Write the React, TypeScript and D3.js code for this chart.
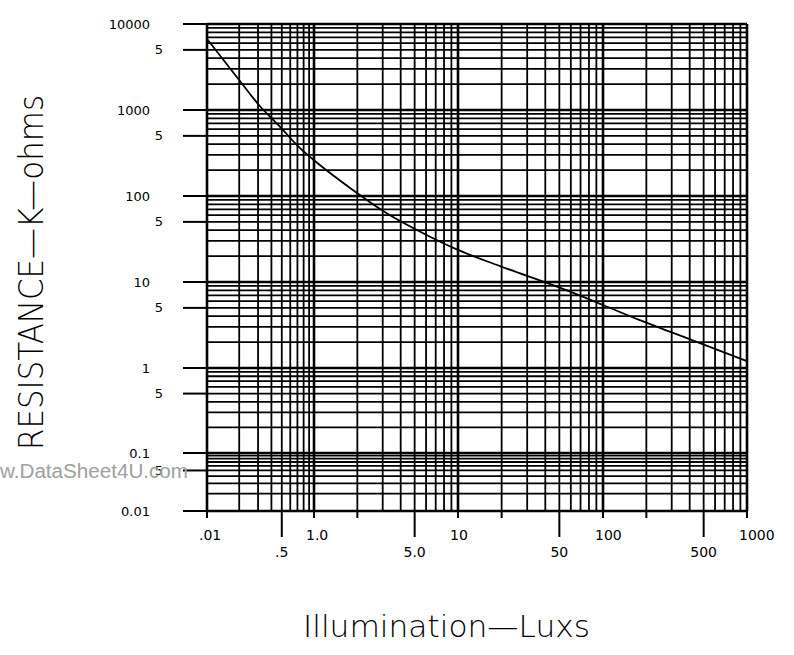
import * as d3 from 'd3';

// Log paper decades as printed on the sheet (the left decade is labelled ".01")
const xDecades = [0.1, 1, 10, 100, 1000];
const xDecadeLabels = ['.01', '1.0', '10', '100', '1000'];
const xFiveTicks = [0.5, 5, 50, 500];
const xFiveLabels = ['.5', '5.0', '50', '500'];
const xShortTicks = [0.1, 1, 2, 10, 20, 100, 200, 1000];

const yDecades = [10000, 1000, 100, 10, 1, 0.1, 0.01];
const yDecadeLabels = ['10000', '1000', '100', '10', '1', '0.1', '0.01'];
const yFiveTicks = [5000, 500, 50, 5, 0.5, 0.05];
const yFiveLabels = ['5', '5', '5', '5', '5', '5'];

// Resistance (K-ohms) vs illumination (lux)
const lux = [0.1, 0.21, 0.31, 0.48, 0.74, 1.03, 1.78, 3.2, 6.1, 10, 19.5, 53, 100, 180, 300, 420, 1000];
const resistance = [6700, 2060, 1120, 640, 360, 250, 124, 63, 35, 23.6, 15.3, 8.3, 5.4, 3.6, 2.6, 2.1, 1.2];

const W = 794;
const H = 655;
const FONT = '"DejaVu Sans", "Liberation Sans", sans-serif';

export default function App() {
  // the printed paper has a short first x decade and a short last y decade
  const x = d3.scaleLog().domain(xDecades).range([207, 314, 458, 603, 747]);
  const y = d3.scaleLog().domain(yDecades).range([24, 110, 196, 282, 368, 453, 511]);

  const [x0, x1] = [x(xDecades[0]), x(xDecades[xDecades.length - 1])];
  const [y0, y1] = [y(yDecades[0]), y(yDecades[yDecades.length - 1])];

  const xMinor: number[] = [];
  xDecades.slice(0, -1).forEach(d => d3.range(2, 10).forEach(k => xMinor.push(k * d)));
  const yMinor: number[] = [];
  yDecades.slice(1).forEach(d => d3.range(2, 10).forEach(k => yMinor.push(k * d)));

  const pts = lux.map((l, i) => [l, resistance[i]] as [number, number]);
  const line = d3.line<[number, number]>()
    .x(d => x(d[0]))
    .y(d => y(d[1]))
    .curve(d3.curveMonotoneX);

  return (
    <svg width={W} height={H} viewBox={`0 0 ${W} ${H}`}
      style={{ position: 'absolute', left: 0, top: 0, background: '#fff' }}>
      <rect width={W} height={H} fill="#fff" />

      {/* grid */}
      <g stroke="#000" fill="none">
        {xMinor.map(v => (
          <line key={'xm' + v} x1={x(v)} x2={x(v)} y1={y0} y2={y1} strokeWidth={1.8} />
        ))}
        {yMinor.map(v => (
          <line key={'ym' + v} x1={x0} x2={x1} y1={y(v)} y2={y(v)} strokeWidth={1.8} />
        ))}
        {xDecades.map(v => (
          <line key={'xd' + v} x1={x(v)} x2={x(v)} y1={y0} y2={y1} strokeWidth={2.6} />
        ))}
        {yDecades.map(v => (
          <line key={'yd' + v} x1={x0} x2={x1} y1={y(v)} y2={y(v)} strokeWidth={2.6} />
        ))}
      </g>

      {/* y ticks + labels */}
      <g stroke="#000" strokeWidth={2}>
        {yDecades.map(v => <line key={'yt' + v} x1={x0 - 24} x2={x0} y1={y(v)} y2={y(v)} />)}
        {yFiveTicks.map(v => <line key={'yf' + v} x1={x0 - 24} x2={x0} y1={y(v)} y2={y(v)} />)}
      </g>
      <g fontFamily={FONT} fontSize={13} fill="#000">
        {yDecades.map((v, i) => (
          <text key={'yl' + v} x={150} y={y(v)} dy="0.35em" textAnchor="end">{yDecadeLabels[i]}</text>
        ))}
        {yFiveTicks.map((v, i) => (
          <text key={'yfl' + v} x={163} y={y(v)} dy="0.35em" textAnchor="end">{yFiveLabels[i]}</text>
        ))}
      </g>

      {/* x ticks + labels */}
      <g stroke="#000" strokeWidth={2}>
        {xShortTicks.map(v => <line key={'xt' + v} x1={x(v)} x2={x(v)} y1={y1} y2={y1 + 7} />)}
        {xFiveTicks.map(v => <line key={'xf' + v} x1={x(v)} x2={x(v)} y1={y1} y2={y1 + 26} />)}
      </g>
      <g fontFamily={FONT} fontSize={14} fill="#000">
        {xDecades.map((v, i) => (
          <text key={'xl' + v} x={x(v) - 8} y={540}>{xDecadeLabels[i]}</text>
        ))}
        {xFiveTicks.map((v, i) => (
          <text key={'xfl' + v} x={x(v)} y={557} textAnchor="middle">{xFiveLabels[i]}</text>
        ))}
      </g>

      {/* curve */}
      <path d={line(pts) ?? ''} fill="none" stroke="#000" strokeWidth={1.8} />

      {/* axis titles */}
      <text transform="translate(43,450) rotate(-90)" fontFamily={FONT} fontWeight={200}
        fontSize={34} textLength={355} lengthAdjust="spacingAndGlyphs" fill="#000">
        RESISTANCE—K—ohms
      </text>
      <text x={303} y={637} fontFamily={FONT} fontWeight={200} fontSize={30}
        textLength={287} lengthAdjust="spacingAndGlyphs" fill="#000">
        Illumination—Luxs
      </text>

      {/* watermark */}
      <text x={0} y={478} fontFamily='"Liberation Sans", Arial, sans-serif' fontSize={20}
        textLength={188} lengthAdjust="spacingAndGlyphs" fill="#a0a0a0">
        w.DataSheet4U.com
      </text>
    </svg>
  );
}
